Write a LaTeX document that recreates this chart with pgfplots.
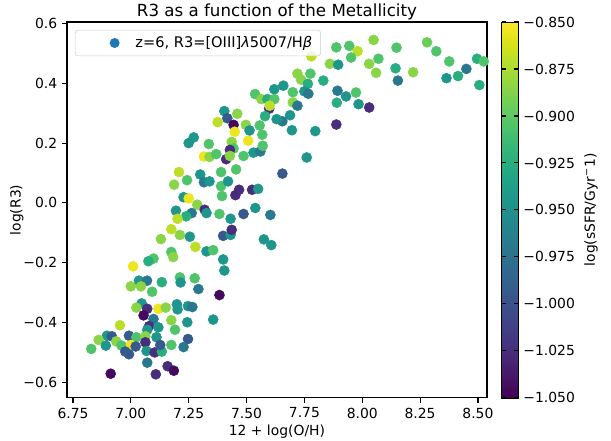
\documentclass[border=0pt]{standalone}
\usepackage{fontspec}
\setmainfont{DejaVu Sans}
\usepackage{pgfplots}
\pgfplotsset{compat=1.18}
\definecolor{mplblue}{HTML}{1F77B4}
% x, y, log sSFR
\pgfplotstableread{
x y c
7.130 -0.121 -0.885
7.098 -0.186 -0.905
7.076 -0.195 -0.925
7.010 -0.212 -0.855
7.035 -0.260 -0.945
7.070 -0.260 -0.970
7.134 -0.265 -0.925
7.000 -0.279 -0.885
7.044 -0.279 -0.885
7.092 -0.297 -0.905
7.047 -0.336 -0.945
7.024 -0.350 -0.885
7.071 -0.354 -1.025
7.119 -0.354 -0.855
7.055 -0.376 -1.045
7.098 -0.388 -0.970
6.953 -0.409 -0.870
7.079 -0.412 -1.025
7.071 -0.424 -0.945
7.119 -0.416 -0.945
6.897 -0.444 -0.945
6.918 -0.446 -0.995
6.861 -0.458 -0.885
6.992 -0.444 -0.995
7.024 -0.449 -0.905
7.063 -0.446 -0.885
7.111 -0.449 -0.945
6.937 -0.463 -0.885
6.892 -0.477 -0.945
6.829 -0.488 -0.905
6.960 -0.477 -0.905
7.000 -0.475 -0.855
7.021 -0.480 -0.995
7.063 -0.466 -1.025
6.976 -0.497 -0.995
6.992 -0.506 -0.995
7.068 -0.495 -0.945
7.103 -0.500 -1.025
7.134 -0.497 -0.925
7.127 -0.475 -0.995
7.071 -0.534 -0.970
6.913 -0.571 -1.045
7.108 -0.573 -1.025
7.390 0.056 -0.905
7.228 0.019 -0.945
7.250 0.015 -0.855
7.287 -0.006 -0.885
7.394 0.023 -0.905
7.452 0.026 -1.025
7.195 -0.026 -0.945
7.263 -0.034 -0.970
7.319 -0.023 -1.025
7.327 -0.034 -0.945
7.239 -0.045 -0.925
7.383 -0.037 -0.905
7.431 -0.053 -0.945
7.487 -0.037 -0.995
7.538 -0.017 -0.945
7.603 -0.040 -0.970
7.202 -0.053 -0.870
7.175 -0.088 -0.870
7.212 -0.107 -0.885
7.255 -0.113 -0.945
7.399 -0.110 -0.995
7.431 -0.107 -0.945
7.436 -0.090 -1.025
7.575 -0.122 -0.945
7.607 -0.141 -0.945
7.279 -0.147 -0.870
7.327 -0.162 -0.945
7.356 -0.158 -0.905
7.175 -0.164 -0.905
7.183 -0.181 -0.885
7.399 -0.189 -0.945
7.404 -0.226 -0.945
7.212 -0.249 -0.905
7.276 -0.252 -0.905
7.215 -0.266 -0.945
7.292 -0.288 -0.970
7.383 -0.308 -1.045
7.151 -0.350 -0.885
7.199 -0.339 -0.945
7.247 -0.345 -0.945
7.266 -0.348 -0.970
7.202 -0.356 -0.945
7.175 -0.392 -0.885
7.191 -0.424 -0.905
7.244 -0.399 -0.945
7.356 -0.390 -0.945
7.247 -0.455 -0.995
7.228 -0.482 -0.970
7.175 -0.475 -0.905
7.159 -0.546 -1.025
7.186 -0.561 -1.045
7.537 0.364 -0.905
7.564 0.347 -0.885
7.404 0.307 -0.945
7.460 0.298 -0.885
7.375 0.270 -0.870
7.417 0.283 -0.995
7.444 0.261 -1.045
7.497 0.261 -0.885
7.449 0.238 -0.855
7.557 0.259 -0.905
7.513 0.242 -0.945
7.507 0.208 -0.855
7.436 0.204 -0.885
7.272 0.219 -0.945
7.250 0.200 -0.945
7.337 0.197 -0.905
7.444 0.182 -0.905
7.428 0.177 -1.025
7.530 0.168 -0.945
7.316 0.155 -0.855
7.340 0.154 -0.885
7.369 0.163 -0.905
7.412 0.146 -1.025
7.428 0.157 -0.885
7.455 0.112 -0.905
7.390 0.103 -0.905
7.487 0.157 -0.905
7.208 0.103 -0.870
7.243 0.076 -0.905
7.187 0.061 -0.885
7.300 0.095 -0.945
7.316 0.069 -0.970
7.340 0.072 -0.945
7.420 0.072 -0.945
7.468 0.044 -1.025
7.524 0.044 -1.025
7.550 0.047 -0.945
8.049 0.545 -0.885
7.944 0.525 -0.905
7.888 0.520 -0.905
7.980 0.507 -0.870
7.952 0.486 -0.905
7.780 0.490 -0.870
8.070 0.482 -0.905
8.030 0.465 -0.885
8.060 0.435 -0.885
7.860 0.465 -0.885
7.896 0.462 -0.945
7.720 0.432 -0.885
7.776 0.432 -0.905
7.736 0.412 -0.885
7.765 0.398 -0.925
7.832 0.409 -0.925
7.659 0.392 -0.945
7.620 0.380 -0.945
7.750 0.373 -0.945
7.767 0.365 -0.970
7.893 0.375 -0.970
7.930 0.356 -0.945
7.973 0.369 -0.905
7.890 0.335 -0.925
7.984 0.330 -0.945
8.030 0.319 -1.025
7.590 0.347 -0.925
7.620 0.347 -0.905
7.700 0.370 -0.905
7.700 0.336 -0.885
7.720 0.325 -0.970
7.598 0.315 -1.025
7.600 0.325 -0.870
7.688 0.293 -0.945
7.655 0.273 -0.970
7.630 0.280 -0.945
7.580 0.290 -0.925
7.568 0.228 -0.905
7.696 0.243 -0.945
7.797 0.240 -0.945
7.888 0.262 -1.025
7.560 0.172 -0.970
7.760 0.152 -0.945
7.655 0.098 -0.995
7.570 0.191 -0.905
8.148 0.519 -0.905
8.280 0.537 -0.895
8.320 0.507 -0.905
8.144 0.450 -0.925
8.220 0.437 -0.885
8.154 0.409 -0.970
8.376 0.473 -0.905
8.496 0.482 -0.925
8.525 0.473 -0.905
8.450 0.448 -0.970
8.414 0.424 -0.925
8.364 0.417 -0.945
8.506 0.394 -0.925
}\ratio
\begin{document}
\fontsize{10}{12}\selectfont
\begin{tikzpicture}
\begin{axis}[
  name=main,
  scale only axis,
  width=302.4pt, height=270.7pt,
  xmin=6.724, xmax=8.539, ymin=-0.652, ymax=0.605,
  xtick={6.75,7,7.25,7.5,7.75,8,8.25,8.5},
  xticklabels={6.75,7.00,7.25,7.50,7.75,8.00,8.25,8.50},
  ytick={-0.6,-0.4,-0.2,0,0.2,0.4,0.6},
  yticklabels={−0.6,−0.4,−0.2,0.0,0.2,0.4,0.6},
  tick align=outside, tick pos=left,
  major tick length=3.5pt,
  every tick/.style={black, line width=0.8pt},
  axis line style={line width=0.8pt},
  xlabel={12 + log(O/H)}, ylabel={log(R3)},
  xlabel style={yshift=2pt},
  ylabel style={yshift=-7pt},
  title={R3 as a function of the Metallicity},
  title style={font=\fontsize{12}{14}\selectfont, yshift=-8pt},
  colormap name=viridis,
  colorbar,
  point meta min=-1.05, point meta max=-0.85,
  colorbar style={
    at={(parent axis.north east)}, anchor=north west, xshift=2pt,
    width=12.2pt,
    ytick={-1.05,-1.025,-1,-0.975,-0.95,-0.925,-0.9,-0.875,-0.85},
    yticklabels={−1.050,−1.025,−1.000,−0.975,−0.950,−0.925,−0.900,−0.875,−0.850},
    major tick length=3.5pt,
    ylabel={log(sSFR/Gyr\textsuperscript{−}1)},
  },
  legend style={at={(0.019,0.979)}, anchor=north west,
    draw=black!20, rounded corners=2pt, fill=white, fill opacity=0.8,
    text opacity=1, inner xsep=4pt, inner ysep=2.5pt,
    font=\fontsize{10.5}{12.5}\selectfont},
  legend cell align=left,
  legend image code/.code={
    \path[draw=none, fill=none] (-11.4pt,0pt) -- (26pt,0pt);
    \path[draw=none, fill=mplblue, fill opacity=1] (13pt,0pt) circle (3.6pt);
  },
]
\addlegendimage{mplblue}
\addlegendentry{z=6, R3=[OIII]{\itshape λ}5007/H{\itshape β}\hspace{4pt}}
\addplot[scatter, only marks, mark=*, mark size=3.6pt, scatter src=explicit,
  scatter/use mapped color={draw=mapped color, fill=mapped color}, forget plot]
  table[x=x, y=y, meta=c] {\ratio};
\end{axis}
\pgfresetboundingbox
\path[use as bounding box] ([shift={(-48.2pt,-31pt)}]main.south west)
  rectangle ([shift={(89.3pt,15.8pt)}]main.north east);
\end{tikzpicture}
\end{document}
